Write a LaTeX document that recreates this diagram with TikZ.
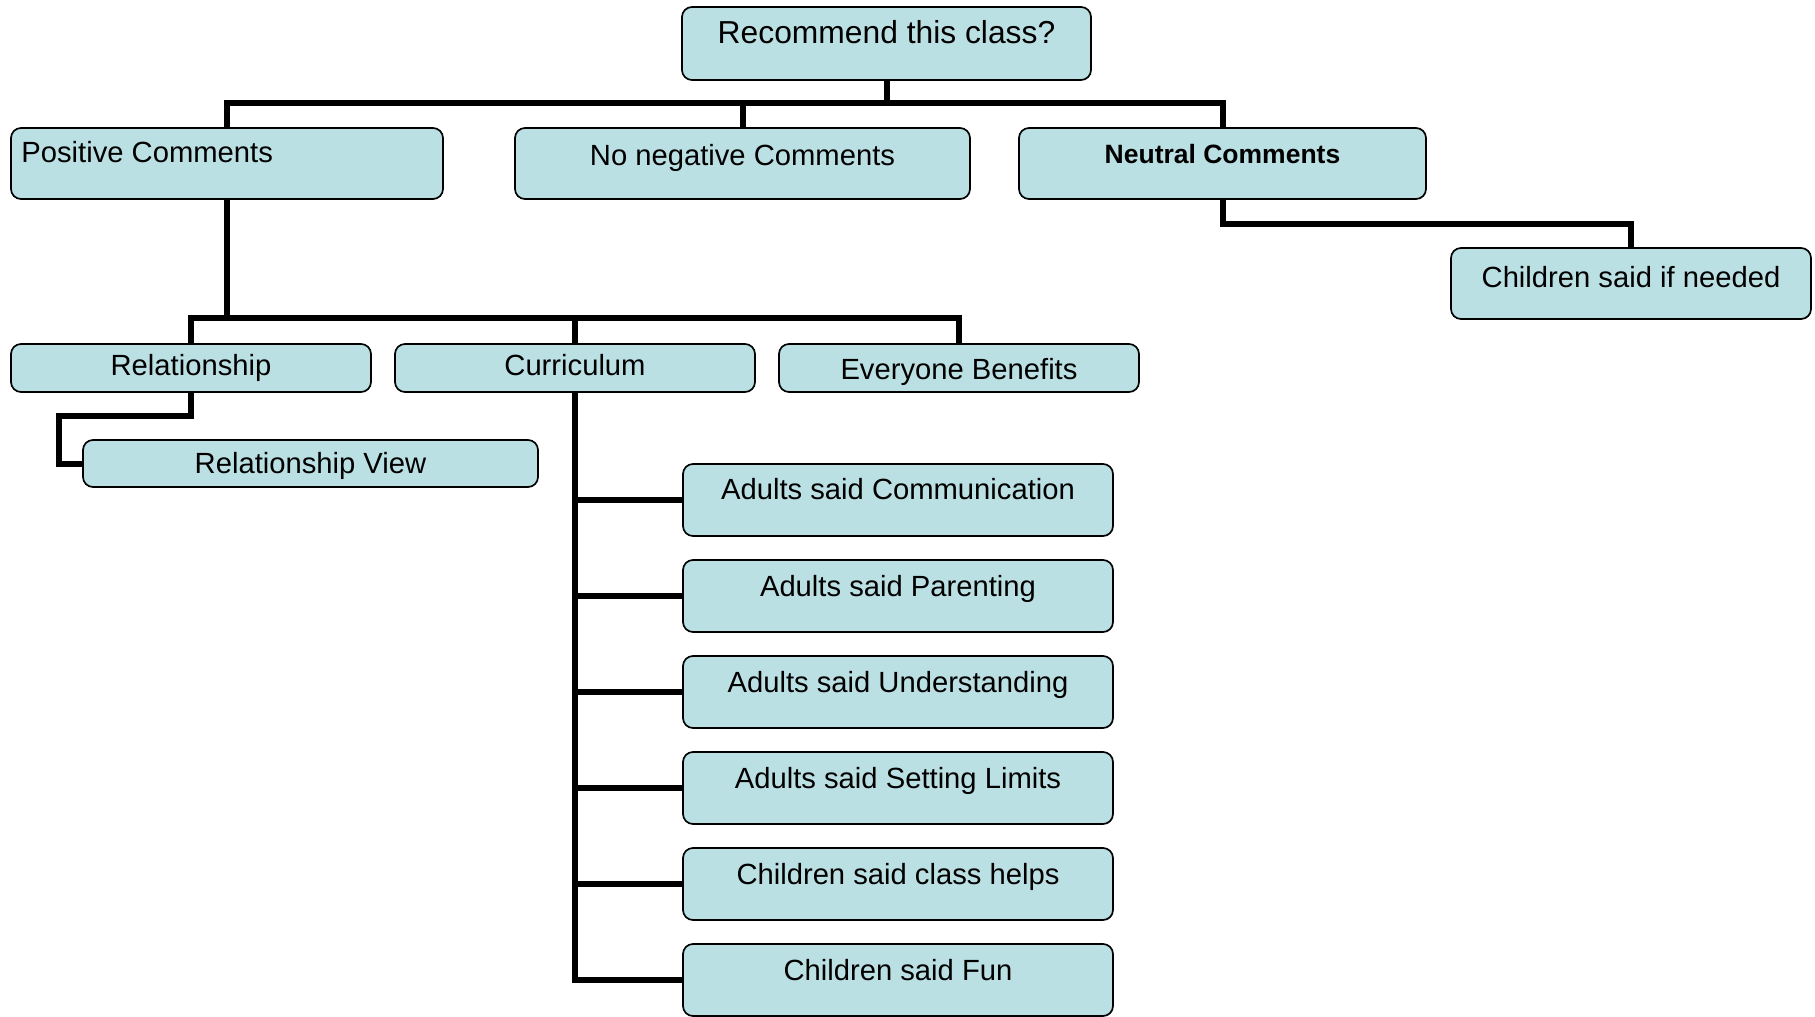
\documentclass[tikz,border=0pt]{standalone}
\usepackage{fontspec}
\setmainfont{Liberation Sans}
\definecolor{boxfill}{RGB}{187,224,227}
\tikzset{
  box/.style={draw=black, line width=0.85pt, fill=boxfill, rounded corners=5pt, inner sep=0pt},
  conn/.style={draw=black, line width=3pt},
  txt/.style={anchor=base, inner sep=0pt, font=\fontsize{14.6}{17}\selectfont},
  txtbig/.style={anchor=base, inner sep=0pt, font=\fontsize{15.9}{18}\selectfont},
  txtbold/.style={anchor=base, inner sep=0pt, font=\fontsize{13.25}{16}\selectfont\bfseries},
}
\begin{document}
\begin{tikzpicture}[x=0.5pt, y=-0.5pt]
\useasboundingbox (0,0) rectangle (1815,1017);
% boxes
\node[box, minimum width=204.5pt, minimum height=36.5pt] (root) at (886.5,43.5) {};
\node[box, minimum width=216pt, minimum height=35.5pt] (pos) at (227,163.5) {};
\node[box, minimum width=227.5pt, minimum height=35.5pt] (noneg) at (742.5,163.5) {};
\node[box, minimum width=203.5pt, minimum height=35.5pt] (neut) at (1222.5,163.5) {};
\node[box, minimum width=180pt, minimum height=35.5pt] (child) at (1631,283.5) {};
\node[box, minimum width=180pt, minimum height=24pt] (rel) at (191,368) {};
\node[box, minimum width=180pt, minimum height=24pt] (cur) at (575,368) {};
\node[box, minimum width=180pt, minimum height=24pt] (every) at (959,368) {};
\node[box, minimum width=227.5pt, minimum height=23.5pt] (relv) at (310.5,463.5) {};
\node[box, minimum width=215pt, minimum height=36pt] (a1) at (898,500) {};
\node[box, minimum width=215pt, minimum height=36pt] (a2) at (898,596) {};
\node[box, minimum width=215pt, minimum height=36pt] (a3) at (898,692) {};
\node[box, minimum width=215pt, minimum height=36pt] (a4) at (898,788) {};
\node[box, minimum width=215pt, minimum height=36pt] (a5) at (898,884) {};
\node[box, minimum width=215pt, minimum height=36pt] (a6) at (898,980) {};
% texts
\node[txtbig] (troot) at (886.5,43) {Recommend this class?};
\node[txt, anchor=base west] (tpos) at (21,162) {Positive Comments};
\node[txt] (tnoneg) at (742.5,165) {No negative Comments};
\node[txtbold] (tneut) at (1222.5,163) {Neutral Comments};
\node[txt] (tchild) at (1631,287.5) {Children said if needed};
\node[txt] (trel) at (191,375.5) {Relationship};
\node[txt] (tcur) at (575,375.5) {Curriculum};
\node[txt] (tevery) at (959,379) {Everyone Benefits};
\node[txt] (trelv) at (310.5,473.5) {Relationship View};
\node[txt] (ta1) at (898,499.5) {Adults said Communication};
\node[txt] (ta2) at (898,596) {Adults said Parenting};
\node[txt] (ta3) at (898,692) {Adults said Understanding};
\node[txt] (ta4) at (898,788) {Adults said Setting Limits};
\node[txt] (ta5) at (898,884) {Children said class helps};
\node[txt] (ta6) at (898,980) {Children said Fun};
% connector coordinates
\coordinate (bus1) at (0,103);
\coordinate (bus2) at (0,224);
\coordinate (bus3) at (0,318);
\coordinate (rk) at (59,416);
% connectors
\draw[conn] (root.south) -- (root.south |- bus1);
\draw[conn] (pos.north) -- (pos.north |- bus1) -| (neut.north);
\draw[conn] (noneg.north) -- (noneg.north |- bus1);
\draw[conn] (neut.south) -- (neut.south |- bus2) -| (child.north);
\draw[conn] (pos.south) -- (pos.south |- bus3);
\draw[conn] (rel.north) -- (rel.north |- bus3) -| (every.north);
\draw[conn] (cur.north) -- (cur.north |- bus3);
\draw[conn] (rel.south) |- (rk) |- (relv.west);
\draw[conn] (cur.south) |- (a6.west);
\draw[conn] (cur.south |- a1.west) -- (a1.west);
\draw[conn] (cur.south |- a2.west) -- (a2.west);
\draw[conn] (cur.south |- a3.west) -- (a3.west);
\draw[conn] (cur.south |- a4.west) -- (a4.west);
\draw[conn] (cur.south |- a5.west) -- (a5.west);
\end{tikzpicture}
\end{document}
